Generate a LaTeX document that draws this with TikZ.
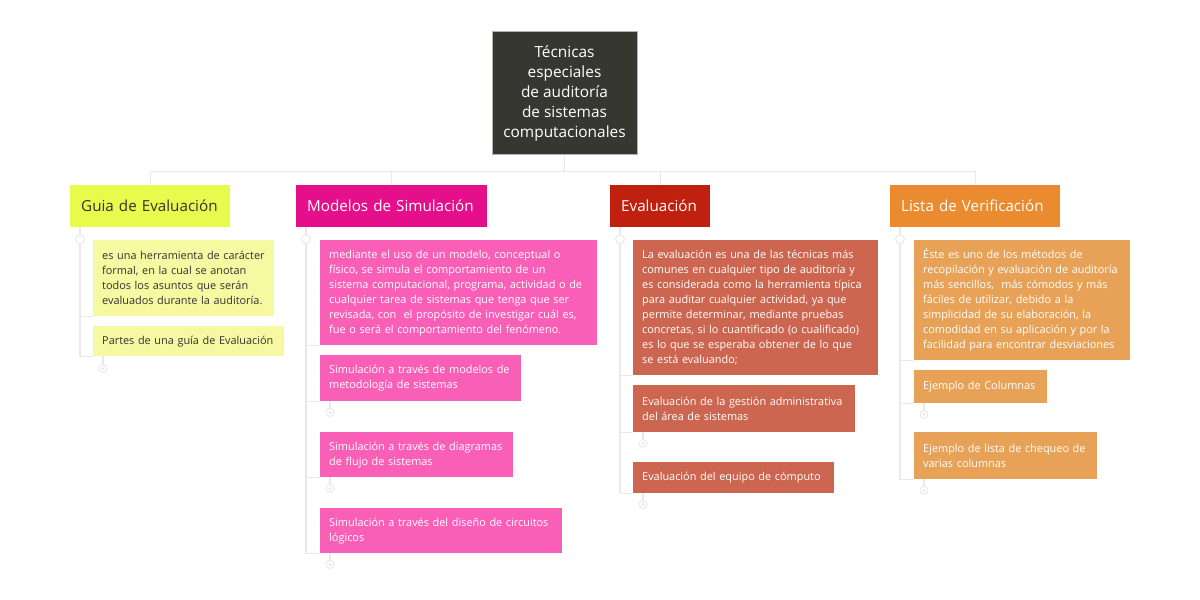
\documentclass[tikz,border=0pt]{standalone}
\usepackage{fontspec}
\setmainfont{Open Sans}
\usetikzlibrary{positioning, calc}
\definecolor{rootgray}{HTML}{373732}
\definecolor{linkgray}{HTML}{E9E9E9}
\definecolor{guiacol}{HTML}{E8FA4C}
\definecolor{guialeaf}{HTML}{F7F8A2}
\definecolor{modcol}{HTML}{E60F8B}
\definecolor{modleaf}{HTML}{F95FB6}
\definecolor{evalcol}{HTML}{C0210E}
\definecolor{evalleaf}{HTML}{CD6650}
\definecolor{listacol}{HTML}{E98B2E}
\definecolor{listaleaf}{HTML}{E8A257}
\definecolor{inkdark}{HTML}{333333}
\tikzset{
  link/.style  = {draw=linkgray, line width=1.3pt},
  rootbox/.style = {rectangle, fill=rootgray, draw=gray!60, line width=0.6pt,
                  text=white, align=center, minimum width=145pt, minimum height=123pt,
                  inner sep=0pt, font=\fontsize{15.4}{20}\selectfont},
  topic/.style = {rectangle, anchor=north west, minimum height=42pt, align=left,
                  inner xsep=11pt, inner ysep=0pt, font=\fontsize{15.2}{18}\selectfont},
  leaf/.style  = {rectangle, anchor=north west, align=left, inner xsep=9pt,
                  inner ysep=0pt, font=\fontsize{10.9}{15}\selectfont},
  hub/.style   = {circle, draw=linkgray, fill=white, line width=1pt,
                  minimum size=9pt, inner sep=0pt},
  knob/.style  = {hub, minimum size=8pt,
                  path picture={\fill[linkgray] (path picture bounding box.center) circle (1.6pt);}},
}
\begin{document}
\begin{tikzpicture}[x=1pt, y=-1pt]
  \useasboundingbox (0,0) rectangle (1200,600);
  % ---- root and main topics ----
  \node[rootbox] (root) at (564.5,93) {Técnicas\\especiales\\de auditoría\\de sistemas\\computacionales};
  \node[topic, fill=guiacol, text=inkdark, text width=138pt] (guia) at (70,185) {Guia de Evaluación};
  \node[topic, fill=modcol, text=white, text width=169pt] (modelos) at (296,185) {Modelos de Simulación};
  \node[topic, fill=evalcol, text=white, text width=78pt] (evaluacion) at (610,185) {Evaluación};
  \node[topic, fill=listacol, text=white, text width=148pt] (lista) at (890,185) {Lista de Verificación};
  \draw[link] (root.south) -- ++(0,17) -| (guia.north);
  \draw[link] (root.south) -- ++(0,17) -| (modelos.north);
  \draw[link] (root.south) -- ++(0,17) -| (evaluacion.north);
  \draw[link] (root.south) -- ++(0,17) -| (lista.north);

  % ---- Guia de Evaluación ----
  \node[leaf, fill=guialeaf, text=inkdark, text width=163pt, minimum height=76pt] (g1) at (93,240)
    {es una herramienta de carácter\\formal, en la cual se anotan\\todos los asuntos que serán\\evaluados durante la auditoría.};
  \node[leaf, fill=guialeaf, text=inkdark, text width=173pt, minimum height=30pt] (g2) at (93,326)
    {Partes de una guía de Evaluación};
  \draw[link] ([xshift=10pt]guia.south west) |- (g1.south west);
  \draw[link] ([xshift=10pt]guia.south west) |- (g2.south west);
  \node[hub] (gh) at ([xshift=10pt, yshift=-12pt]guia.south west) {};
  \node[knob] (gk2) at ([xshift=10pt, yshift=-12pt]g2.south west) {};
  \draw[link] ([xshift=10pt]g2.south west) -- (gk2);

  % ---- Modelos de Simulación ----
  \node[leaf, fill=modleaf, text=white, text width=259pt, minimum height=105pt] (m1) at (320,240)
    {mediante el uso de un modelo, conceptual o\\físico, se simula el comportamiento de un\\sistema computacional, programa, actividad o de\\cualquier tarea de sistemas que tenga que ser\\revisada, con\ \ el propósito de investigar cuál es,\\fue o será el comportamiento del fenómeno.};
  \node[leaf, fill=modleaf, text=white, text width=183pt, minimum height=46pt] (m2) at (320,355)
    {Simulación a través de modelos de\\metodología de sistemas};
  \node[leaf, fill=modleaf, text=white, text width=175pt, minimum height=45pt] (m3) at (320,432)
    {Simulación a través de diagramas\\de flujo de sistemas};
  \node[leaf, fill=modleaf, text=white, text width=224pt, minimum height=45pt] (m4) at (320,508)
    {Simulación a través del diseño de circuitos\\lógicos};
  \foreach \k in {m1,m2,m3,m4}
    \draw[link] ([xshift=10pt]modelos.south west) |- (\k.south west);
  \node[hub] (mh) at ([xshift=10pt, yshift=-12pt]modelos.south west) {};
  \foreach \k in {m2,m3,m4}{
    \node[knob] (\k k) at ([xshift=10pt, yshift=-11pt]\k.south west) {};
    \draw[link] ([xshift=10pt]\k.south west) -- (\k k);
  }

  % ---- Evaluación ----
  \node[leaf, fill=evalleaf, text=white, text width=227pt, minimum height=135pt] (e1) at (633,240)
    {La evaluación es una de las técnicas más\\comunes en cualquier tipo de auditoría y\\es considerada como la herramienta típica\\para auditar cualquier actividad, ya que\\permite determinar, mediante pruebas\\concretas, si lo cuantificado (o cualificado)\\es lo que se esperaba obtener de lo que\\se está evaluando;};
  \node[leaf, fill=evalleaf, text=white, text width=204pt, minimum height=47pt] (e2) at (633,385)
    {Evaluación de la gestión administrativa\\del área de sistemas};
  \node[leaf, fill=evalleaf, text=white, text width=183pt, minimum height=31pt] (e3) at (633,462)
    {Evaluación del equipo de cómputo};
  \foreach \k in {e1,e2,e3}
    \draw[link] ([xshift=10pt]evaluacion.south west) |- (\k.south west);
  \node[hub] (eh) at ([xshift=10pt, yshift=-12pt]evaluacion.south west) {};
  \foreach \k in {e2,e3}{
    \node[knob] (\k k) at ([xshift=10pt, yshift=-11pt]\k.south west) {};
    \draw[link] ([xshift=10pt]\k.south west) -- (\k k);
  }

  % ---- Lista de Verificación ----
  \node[leaf, fill=listaleaf, text=white, text width=198pt, minimum height=120pt] (l1) at (914,240)
    {Éste es uno de los métodos de\\recopilación y evaluación de auditoría\\más sencillos,\ \ más cómodos y más\\fáciles de utilizar, debido a la\\simplicidad de su elaboración, la\\comodidad en su aplicación y por la\\facilidad para encontrar desviaciones};
  \node[leaf, fill=listaleaf, text=white, text width=115pt, minimum height=33pt] (l2) at (914,370)
    {Ejemplo de Columnas};
  \node[leaf, fill=listaleaf, text=white, text width=165pt, minimum height=47pt] (l3) at (914,432)
    {Ejemplo de lista de chequeo de\\varias columnas};
  \foreach \k in {l1,l2,l3}
    \draw[link] ([xshift=10pt]lista.south west) |- (\k.south west);
  \node[hub] (lh) at ([xshift=10pt, yshift=-12pt]lista.south west) {};
  \foreach \k in {l2,l3}{
    \node[knob] (\k k) at ([xshift=10pt, yshift=-11pt]\k.south west) {};
    \draw[link] ([xshift=10pt]\k.south west) -- (\k k);
  }
\end{tikzpicture}
\end{document}
